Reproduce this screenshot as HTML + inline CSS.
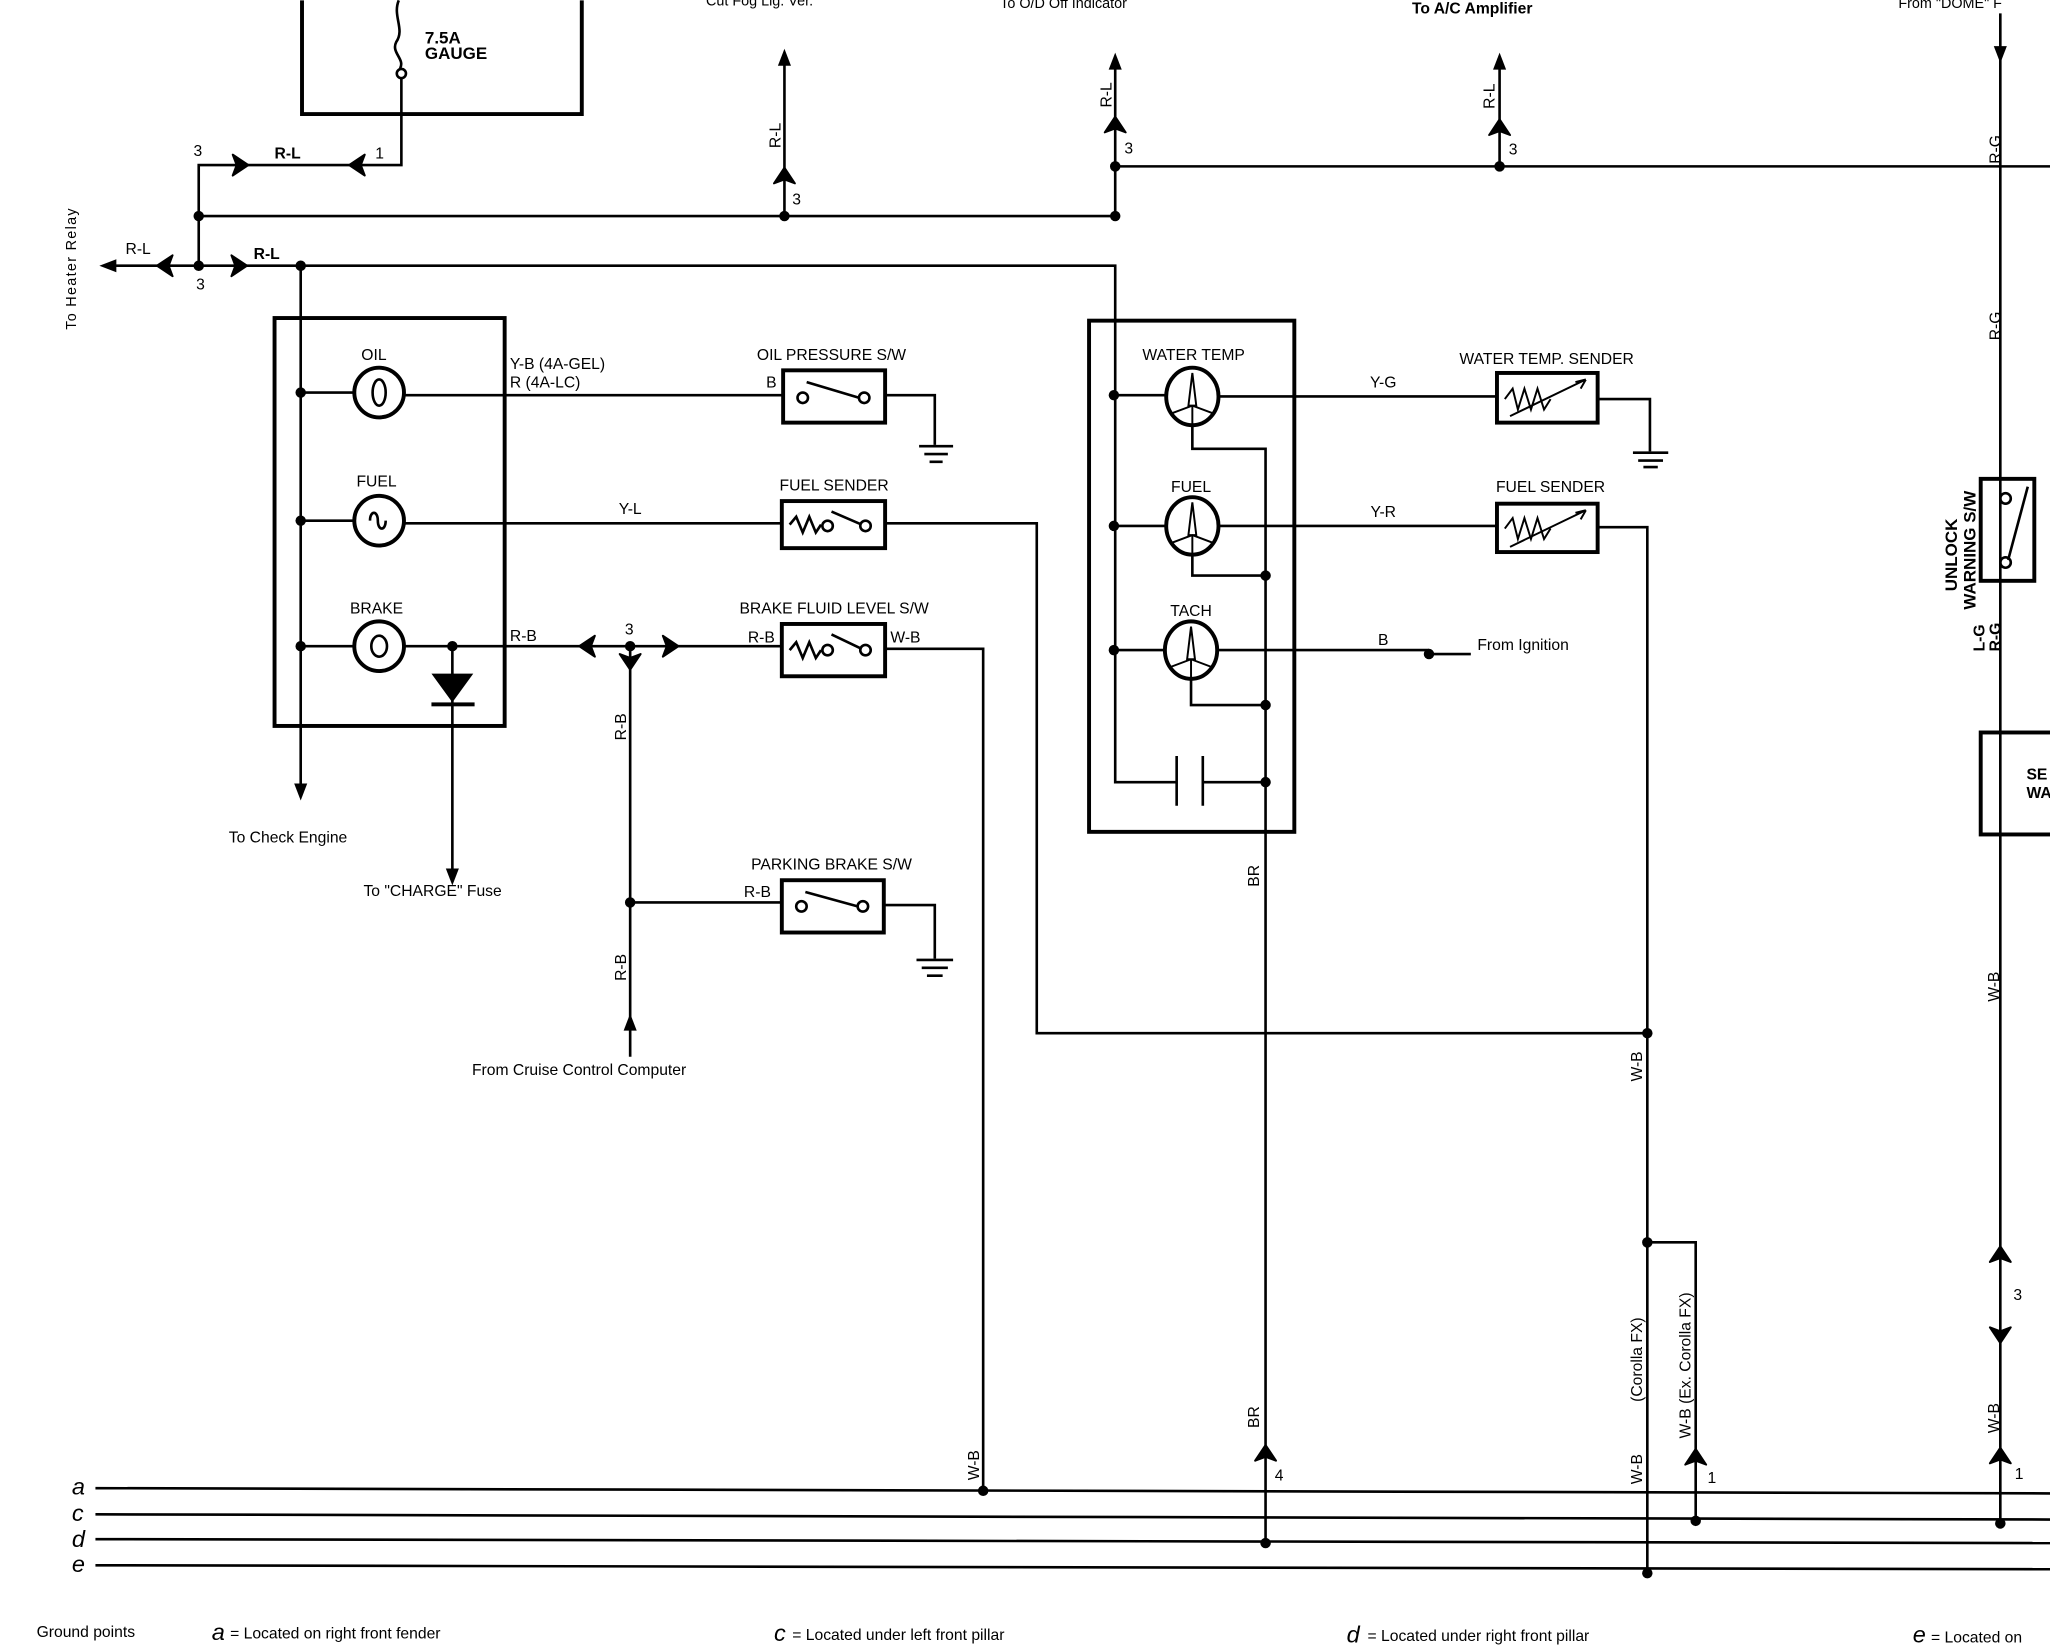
<!DOCTYPE html>
<html><head><meta charset="utf-8"><style>
html,body{margin:0;padding:0;background:#fff;}
svg{display:block;}
text{font-family:"Liberation Sans",sans-serif;fill:#000;}
</style></head><body>
<svg width="2050" height="1648" viewBox="0 0 1568 1260" xmlns="http://www.w3.org/2000/svg">
<defs>
<path id="chR" d="M-7,-8 L5,0 L-7,8 L-4,0 Z" stroke="#000" stroke-width="1.5" stroke-linejoin="round"/>
<path id="arr" d="M0,0 L-5,-13 L5,-13 Z"/>
</defs>
<rect width="1568" height="1260" fill="#fff"/>
<g fill="none" stroke="#000" stroke-width="2">
<path d="M231,0 V87 H445 V0" stroke-width="3"/>
<path d="M305,0 C300,12 310,22 303,32 C299,40 310,45 306,52"/>
<circle cx="307" cy="56" r="3.5" fill="#fff"/>
<path d="M307,60 V126 H152 V203"/>
<path d="M152,165 H853"/>
<path d="M80,203 H853 V598 H900"/>
<path d="M853,127 H1568"/>
<path d="M230,203 V605"/>
<path d="M600,40 V165"/>
<path d="M853,45 V165"/>
<path d="M1147,45 V127"/>
<path d="M1530,10 V1165"/>
<rect x="210" y="243" width="176" height="312" stroke-width="3"/>
<circle cx="290" cy="300" r="19" stroke-width="3"/>
<circle cx="290" cy="398" r="19" stroke-width="3"/>
<circle cx="290" cy="494" r="19" stroke-width="3"/>
<ellipse cx="290" cy="300" rx="5" ry="10"/>
<path d="M283,398 c0,-8 6,-8 6,0 c0,8 6,8 6,0"/>
<ellipse cx="290" cy="494" rx="6" ry="8"/>
<path d="M230,300 H271 M309,302 H599"/>
<path d="M230,398 H271 M309,400 H598"/>
<path d="M230,494 H271 M309,494 H598"/>
<path d="M346,494 V670"/>
<rect x="599" y="283" width="78" height="40" stroke-width="3"/>
<circle cx="614" cy="304" r="4"/><circle cx="661" cy="304" r="4"/>
<path d="M617,292 L657,304"/>
<path d="M677,302 H715 V340"/>
<path d="M703,341 H729 M707,347 H725 M711,353 H721"/>
<rect x="598" y="383" width="79" height="36" stroke-width="3"/>
<path d="M604,401 L609,395 L614,407 L619,395 L624,407 L628,401"/>
<circle cx="633" cy="402" r="4"/><circle cx="662" cy="402" r="4"/>
<path d="M636,391 L659,401"/>
<path d="M677,400 H793 V790 H1260"/>
<rect x="598" y="477" width="79" height="40" stroke-width="3"/>
<path d="M604,497 L609,491 L614,503 L619,491 L624,503 L628,497"/>
<circle cx="633" cy="497" r="4"/><circle cx="662" cy="497" r="4"/>
<path d="M636,485 L659,496"/>
<path d="M677,496 H752 V1140"/>
<path d="M482,494 V808"/>
<path d="M482,690 H598"/>
<rect x="598" y="673" width="78" height="40" stroke-width="3"/>
<circle cx="613" cy="693" r="4"/><circle cx="660" cy="693" r="4"/>
<path d="M616,682 L656,693"/>
<path d="M676,692 H715 V733"/>
<path d="M701,734 H729 M705,740 H725 M709,746 H721"/>
<rect x="833" y="245" width="157" height="391" stroke-width="3"/>
<ellipse cx="912" cy="303" rx="20" ry="22" stroke-width="3"/>
<ellipse cx="912" cy="402" rx="20" ry="22" stroke-width="3"/>
<ellipse cx="911" cy="497" rx="20" ry="22" stroke-width="3"/>
<path d="M912,285 L909,310 L915,310 Z M896,316 L912,310 L928,316 M912,310 V324" stroke-width="1.5"/>
<path d="M912,384 L909,409 L915,409 Z M896,415 L912,409 L928,415 M912,409 V423" stroke-width="1.5"/>
<path d="M911,479 L908,504 L914,504 Z M895,510 L911,504 L927,510 M911,504 V518" stroke-width="1.5"/>
<path d="M852,302 H892 M932,303 H1145"/>
<path d="M852,402 H892 M932,402 H1145"/>
<path d="M852,497 H891 M931,497 H1093 M1093,500 H1125"/>
<path d="M912,325 V343 H968 V1180"/>
<path d="M912,424 V440 H968"/>
<path d="M911,519 V539 H968"/>
<path d="M900,578 V616 M920,578 V616 M920,598 H968"/>
<rect x="1145" y="285" width="77" height="38" stroke-width="3"/>
<path d="M1151,305 L1157,297 L1161,313 L1166,297 L1171,313 L1176,297 L1181,313 L1186,305" stroke-width="1.5"/>
<path d="M1155,318 L1213,290 M1213,290 L1205,292 M1213,290 L1209,297" stroke-width="1.5"/>
<path d="M1222,305 H1262 V345"/>
<path d="M1249,346 H1276 M1253,352 H1272 M1257,357 H1268"/>
<rect x="1145" y="385" width="77" height="37" stroke-width="3"/>
<path d="M1151,404 L1157,396 L1161,412 L1166,396 L1171,412 L1176,396 L1181,412 L1186,404" stroke-width="1.5"/>
<path d="M1155,418 L1213,390 M1213,390 L1205,392 M1213,390 L1209,397" stroke-width="1.5"/>
<path d="M1222,403 H1260 V1203"/>
<path d="M1260,950 H1297 V1163"/>
<rect x="1515" y="366" width="41" height="78" stroke-width="3"/>
<circle cx="1534" cy="381" r="4"/><circle cx="1534" cy="430" r="4"/>
<path d="M1551,372 L1536,428"/>
<rect x="1515" y="560" width="60" height="78" stroke-width="3"/>
<path d="M73,1138 L1568,1142"/>
<path d="M73,1158 L1568,1162"/>
<path d="M73,1177 L1568,1180"/>
<path d="M73,1197 L1568,1200"/>
</g>
<path d="M330,515 H362 L346,537 Z" fill="#000"/>
<rect x="330" y="537" width="33" height="3" fill="#000"/>
<g fill="#000">
<circle cx="152" cy="165" r="4"/><circle cx="600" cy="165" r="4"/><circle cx="853" cy="165" r="4"/>
<circle cx="152" cy="203" r="4"/><circle cx="230" cy="203" r="4"/><circle cx="853" cy="127" r="4"/><circle cx="1147" cy="127" r="4"/>
<circle cx="230" cy="300" r="4"/><circle cx="230" cy="398" r="4"/><circle cx="230" cy="494" r="4"/>
<circle cx="346" cy="494" r="4"/><circle cx="482" cy="494" r="4"/><circle cx="482" cy="690" r="4"/>
<circle cx="852" cy="302" r="4"/><circle cx="852" cy="402" r="4"/><circle cx="852" cy="497" r="4"/>
<circle cx="968" cy="440" r="4"/><circle cx="968" cy="539" r="4"/><circle cx="968" cy="598" r="4"/>
<circle cx="1093" cy="500" r="4"/><circle cx="1260" cy="790" r="4"/><circle cx="1260" cy="950" r="4"/>
<circle cx="752" cy="1140" r="4"/><circle cx="968" cy="1180" r="4"/><circle cx="1260" cy="1203" r="4"/>
<circle cx="1297" cy="1163" r="4"/><circle cx="1530" cy="1165" r="4"/>
<use href="#arr" transform="translate(230,612)"/>
<use href="#arr" transform="translate(346,677)"/>
<use href="#arr" transform="translate(600,37) rotate(180)"/>
<use href="#arr" transform="translate(853,40) rotate(180)"/>
<use href="#arr" transform="translate(1147,40) rotate(180)"/>
<use href="#arr" transform="translate(1530,48)"/>
<use href="#arr" transform="translate(76,203) rotate(90)"/>
<use href="#arr" transform="translate(482,775) rotate(180)"/>
<use href="#chR" transform="translate(185,126)"/>
<use href="#chR" transform="translate(272,126) rotate(180)"/>
<use href="#chR" transform="translate(125,203) rotate(180)"/>
<use href="#chR" transform="translate(184,203)"/>
<use href="#chR" transform="translate(448,494) rotate(180)"/>
<use href="#chR" transform="translate(514,494)"/>
<use href="#chR" transform="translate(482,507) rotate(90)"/>
<use href="#chR" transform="translate(600,133) rotate(-90)"/>
<use href="#chR" transform="translate(853,94) rotate(-90)"/>
<use href="#chR" transform="translate(1147,96) rotate(-90)"/>
<use href="#chR" transform="translate(968,1110) rotate(-90)"/>
<use href="#chR" transform="translate(1297,1113) rotate(-90)"/>
<use href="#chR" transform="translate(1530,1112) rotate(-90)"/>
<use href="#chR" transform="translate(1530,958) rotate(-90)"/>
<use href="#chR" transform="translate(1530,1022) rotate(90)"/>
</g>
<g font-size="12">
<text x="325" y="33" font-weight="bold" font-size="13">7.5A</text>
<text x="325" y="45" font-weight="bold" font-size="13">GAUGE</text>
<text x="540" y="4" font-size="11">Cut Fog Lig. Ver.</text>
<text x="765" y="6" font-size="11">To O/D Off Indicator</text>
<text x="1080" y="10" font-size="12" font-weight="bold">To A/C Amplifier</text>
<text x="1452" y="6" font-size="11">From "DOME" F</text>
<text x="148" y="119">3</text><text x="210" y="121" font-weight="bold">R-L</text><text x="287" y="121">1</text>
<text x="96" y="194">R-L</text><text x="194" y="198" font-weight="bold">R-L</text><text x="150" y="221">3</text>
<text x="606" y="156">3</text><text x="860" y="117">3</text><text x="1154" y="118">3</text>
<text x="286" y="275" text-anchor="middle">OIL</text>
<text x="288" y="372" text-anchor="middle">FUEL</text>
<text x="288" y="469" text-anchor="middle">BRAKE</text>
<text x="390" y="282">Y-B (4A-GEL)</text><text x="390" y="296">R (4A-LC)</text>
<text x="636" y="275" text-anchor="middle">OIL PRESSURE S/W</text>
<text x="586" y="296">B</text>
<text x="482" y="393" text-anchor="middle">Y-L</text>
<text x="638" y="375" text-anchor="middle">FUEL SENDER</text>
<text x="390" y="490">R-B</text><text x="478" y="485">3</text>
<text x="638" y="469" text-anchor="middle">BRAKE FLUID LEVEL S/W</text>
<text x="572" y="491">R-B</text><text x="681" y="491">W-B</text>
<text x="636" y="665" text-anchor="middle">PARKING BRAKE S/W</text>
<text x="569" y="686">R-B</text>
<text x="175" y="644">To Check Engine</text>
<text x="278" y="685">To "CHARGE" Fuse</text>
<text x="361" y="822">From Cruise Control Computer</text>
<text x="913" y="275" text-anchor="middle">WATER TEMP</text>
<text x="911" y="376" text-anchor="middle">FUEL</text>
<text x="911" y="471" text-anchor="middle">TACH</text>
<text x="1058" y="296" text-anchor="middle">Y-G</text>
<text x="1058" y="395" text-anchor="middle">Y-R</text>
<text x="1058" y="493" text-anchor="middle">B</text>
<text x="1130" y="497">From Ignition</text>
<text x="1183" y="278" text-anchor="middle">WATER TEMP. SENDER</text>
<text x="1186" y="376" text-anchor="middle">FUEL SENDER</text>
<text x="975" y="1132">4</text><text x="1306" y="1134">1</text><text x="1541" y="1131">1</text>
<text x="1540" y="994">3</text>
<text x="1550" y="596" font-weight="bold">SE</text><text x="1550" y="610" font-weight="bold">WA</text>
<g transform="rotate(-90)">
<text x="-252" y="58" font-size="11" letter-spacing="1">To Heater Relay</text>
<text x="-113" y="597">R-L</text>
<text x="-82" y="850">R-L</text>
<text x="-83" y="1143">R-L</text>
<text x="-125" y="1530">R-G</text>
<text x="-260" y="1530">R-G</text>
<text x="-566" y="479">R-B</text>
<text x="-750" y="479">R-B</text>
<text x="-678" y="963">BR</text>
<text x="-1092" y="963">BR</text>
<text x="-827" y="1256">W-B</text>
<text x="-1135" y="1256">W-B</text>
<text x="-1072" y="1256">(Corolla FX)</text>
<text x="-1100" y="1293">W-B (Ex. Corolla FX)</text>
<text x="-1132" y="749">W-B</text>
<text x="-766" y="1529">W-B</text>
<text x="-1096" y="1529">W-B</text>
<text x="-452" y="1497" font-weight="bold" font-size="13">UNLOCK</text>
<text x="-466" y="1511" font-weight="bold" font-size="13">WARNING S/W</text>
<text x="-498" y="1518" font-weight="bold">L-G</text>
<text x="-498" y="1530" font-weight="bold">R-G</text>
</g>
<g font-family="Liberation Serif" font-style="italic" font-size="18">
<text x="55" y="1143">a</text><text x="55" y="1163">c</text><text x="55" y="1183">d</text><text x="55" y="1202">e</text>
<text x="162" y="1254">a</text><text x="592" y="1255">c</text><text x="1030" y="1256">d</text><text x="1463" y="1256">e</text>
</g>
<text x="28" y="1252">Ground points</text>
<text x="176" y="1253">= Located on right front fender</text>
<text x="606" y="1254">= Located under left front pillar</text>
<text x="1046" y="1255">= Located under right front pillar</text>
<text x="1477" y="1256">= Located on</text>
</g>
</svg>
</body></html>
